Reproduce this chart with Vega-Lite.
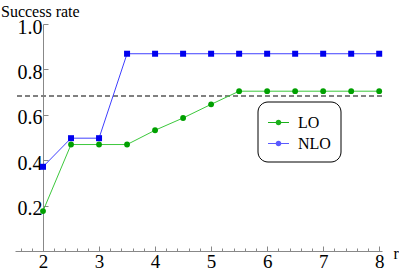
{
  "$schema": "https://vega.github.io/schema/vega-lite/v6.json",
  "width": 367,
  "height": 227,
  "autosize": {"type": "none"},
  "padding": {"left": 15, "top": 24, "right": 17, "bottom": 27},
  "title": {"text": "Success rate", "anchor": "start", "frame": "group", "dx": -14, "offset": -3, "font": "Liberation Serif", "fontSize": 16, "fontWeight": "normal", "color": "black"},
  "config": {"view": {"stroke": null}, "font": "Liberation Serif"},
  "data": {"values": [
    {"r": 2, "rate": 0.176, "series": "LO"},
    {"r": 2.5, "rate": 0.469, "series": "LO"},
    {"r": 3, "rate": 0.469, "series": "LO"},
    {"r": 3.5, "rate": 0.469, "series": "LO"},
    {"r": 4, "rate": 0.532, "series": "LO"},
    {"r": 4.5, "rate": 0.586, "series": "LO"},
    {"r": 5, "rate": 0.646, "series": "LO"},
    {"r": 5.5, "rate": 0.704, "series": "LO"},
    {"r": 6, "rate": 0.704, "series": "LO"},
    {"r": 6.5, "rate": 0.704, "series": "LO"},
    {"r": 7, "rate": 0.704, "series": "LO"},
    {"r": 7.5, "rate": 0.704, "series": "LO"},
    {"r": 8, "rate": 0.704, "series": "LO"},
    {"r": 2, "rate": 0.371, "series": "NLO"},
    {"r": 2.5, "rate": 0.497, "series": "NLO"},
    {"r": 3, "rate": 0.497, "series": "NLO"},
    {"r": 3.5, "rate": 0.869, "series": "NLO"},
    {"r": 4, "rate": 0.869, "series": "NLO"},
    {"r": 4.5, "rate": 0.869, "series": "NLO"},
    {"r": 5, "rate": 0.869, "series": "NLO"},
    {"r": 5.5, "rate": 0.869, "series": "NLO"},
    {"r": 6, "rate": 0.869, "series": "NLO"},
    {"r": 6.5, "rate": 0.869, "series": "NLO"},
    {"r": 7, "rate": 0.869, "series": "NLO"},
    {"r": 7.5, "rate": 0.869, "series": "NLO"},
    {"r": 8, "rate": 0.869, "series": "NLO"}
  ]},
  "layer": [
    {
      "mark": {"type": "rule", "strokeDash": [5, 3], "color": "#808080", "strokeWidth": 1.3},
      "encoding": {"y": {"datum": 0.683, "type": "quantitative"}}
    },
    {
      "encoding": {
        "x": {"field": "r", "type": "quantitative", "scale": {"domain": [1.5, 8.05], "nice": false, "zero": false},
          "axis": {
            "values": [1.6, 1.8, 2, 2.2, 2.4, 2.6, 2.8, 3, 3.2, 3.4, 3.6, 3.8, 4, 4.2, 4.4, 4.6, 4.8, 5, 5.2, 5.4, 5.6, 5.8, 6, 6.2, 6.4, 6.6, 6.8, 7, 7.2, 7.4, 7.6, 7.8, 8],
            "labelExpr": "(abs(datum.value - round(datum.value)) < 0.001) ? format(datum.value, 'd') : ''",
            "tickSize": {"condition": {"test": "abs(datum.value - round(datum.value)) < 0.001", "value": -5}, "value": -3},
            "grid": false, "domainColor": "#888888", "tickColor": "#888888",
            "labelFont": "Liberation Serif", "labelFontSize": 19, "labelColor": "black", "labelPadding": 6,
            "labelFlush": false, "labelOverlap": false,
            "title": "r", "titleX": 378, "titleY": 7, "titleAlign": "left", "titleBaseline": "alphabetic",
            "titleFont": "Liberation Serif", "titleFontSize": 16, "titleFontWeight": "normal", "titleColor": "black"
          }},
        "y": {"field": "rate", "type": "quantitative", "scale": {"domain": [0, 1], "nice": false},
          "axis": {
            "offset": -28,
            "values": [0, 0.05, 0.1, 0.15, 0.2, 0.25, 0.3, 0.35, 0.4, 0.45, 0.5, 0.55, 0.6, 0.65, 0.7, 0.75, 0.8, 0.85, 0.9, 0.95, 1],
            "labelExpr": "(abs(datum.value * 5 - round(datum.value * 5)) < 0.001 && datum.value > 0.01) ? format(datum.value, '.1f') : ''",
            "tickSize": {"condition": {"test": "abs(datum.value * 5 - round(datum.value * 5)) < 0.001", "value": -5}, "value": -3},
            "grid": false, "domainColor": "#888888", "tickColor": "#888888",
            "labelFont": "Liberation Serif", "labelFontSize": 20, "labelColor": "black", "labelPadding": 6,
            "labelOffset": 3,
            "labelFlush": false, "labelOverlap": false,
            "title": null
          }}
      },
      "layer": [
        {
          "mark": {"type": "line", "strokeWidth": 1},
          "encoding": {
            "stroke": {"field": "series", "type": "nominal", "scale": {"domain": ["LO", "NLO"], "range": ["#3cc83c", "#4040ff"]}, "legend": null}
          }
        },
        {
          "transform": [{"filter": "datum.series === 'LO'"}],
          "mark": {"type": "circle", "opacity": 1, "size": 34, "color": "#00a000"}
        },
        {
          "transform": [{"filter": "datum.series === 'NLO'"}],
          "mark": {"type": "square", "opacity": 1, "size": 36, "color": "#0000ee"}
        }
      ]
    },
    {
      "transform": [{"filter": "false"}],
      "mark": {"type": "point", "filled": true, "opacity": 1},
      "encoding": {
        "color": {"field": "series", "type": "nominal", "scale": {"domain": ["LO", "NLO"], "range": ["#1ab01a", "#5a5aff"]},
          "legend": {
            "title": null, "orient": "none", "legendX": 242.5, "legendY": 77.5,
            "strokeColor": "black", "cornerRadius": 10, "padding": 9.5,
            "labelFont": "Liberation Serif", "labelFontSize": 16, "labelColor": "black",
            "rowPadding": 1, "labelOffset": 8, "symbolSize": 441,
            "symbolType": "M-1,-0.045H1V0.045H-1ZM0.27,0A0.27,0.27,0,1,1,-0.27,0A0.27,0.27,0,1,1,0.27,0Z"
          }}
      }
    }
  ],
  "resolve": {"scale": {"color": "independent"}}
}
